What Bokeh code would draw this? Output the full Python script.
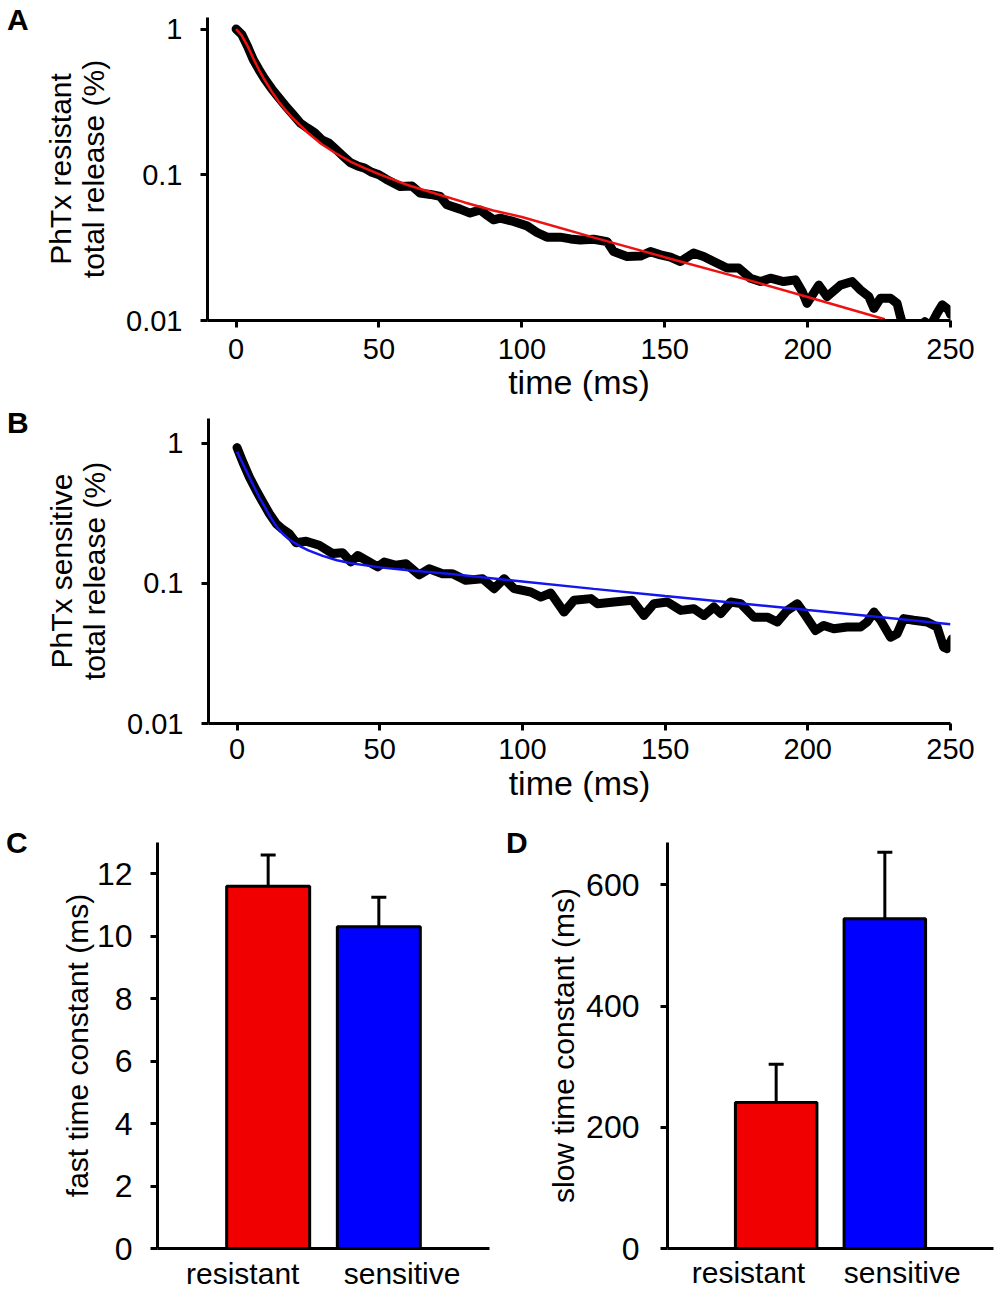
from bokeh.plotting import figure
from bokeh.layouts import column, row
from bokeh.models import Range1d, FixedTicker, Whisker, ColumnDataSource, TeeHead, Div
from bokeh.embed import file_html
from bokeh.resources import INLINE

FONT = "Liberation Sans"

# ---------------- Panel A: PhTx resistant release (black trace + red fit) ----------------
time_a = [0, 2, 4, 6, 8, 10, 12.5, 15, 17.5, 20, 22.5, 25, 27.5, 30, 32.5, 35, 37.5, 40, 42.5, 45,
          47.5, 50, 52.5, 57.4, 61.5, 64.4, 68, 71.4, 73.8, 78.4, 81.9, 85.4, 88, 90.1, 92.4, 97.1,
          101.8, 105.3, 108.8, 113.4, 117, 120.4, 125.1, 129.8, 132.1, 136.8, 141.5, 145, 148.5, 152,
          155.5, 160.1, 163.6, 167.1, 171.8, 175.9, 180, 183.5, 187, 191.6, 195.7, 198.1, 199.8, 203.9,
          206.8, 211.5, 215.6, 218.5, 221.4, 223.2, 225.5, 229, 231.3, 232.5, 234, 238, 241, 243,
          245.3, 247.1, 249.4, 250]
release_a = [1.0, 0.916, 0.762, 0.617, 0.527, 0.455, 0.388, 0.337, 0.294, 0.258, 0.226, 0.209, 0.194,
             0.174, 0.165, 0.149, 0.134, 0.121, 0.115, 0.111, 0.104, 0.100, 0.0933, 0.0832, 0.0839,
             0.0748, 0.0733, 0.0710, 0.0622, 0.0581, 0.0546, 0.0574, 0.0525, 0.0491, 0.0504, 0.0478,
             0.0446, 0.0402, 0.0373, 0.0373, 0.0363, 0.0357, 0.0361, 0.0348, 0.0297, 0.0275, 0.0277,
             0.0297, 0.0282, 0.0272, 0.0254, 0.0290, 0.0275, 0.0254, 0.0229, 0.0229, 0.0195, 0.0185,
             0.0195, 0.0185, 0.0190, 0.0158, 0.0131, 0.0175, 0.0146, 0.0175, 0.0185, 0.0162, 0.0146,
             0.0121, 0.0142, 0.0142, 0.0131, 0.0106, 0.0085, 0.0085, 0.0098, 0.0092, 0.0112, 0.0128,
             0.0118, 0.0110]
fit_time_a = [0, 2, 4, 6, 8, 10, 12.5, 15, 17.5, 20, 25, 30, 35, 40, 45, 50, 60, 70, 80, 90, 100,
              125, 150, 175, 200, 227]
fit_a = [1.0, 0.902, 0.767, 0.631, 0.525, 0.447, 0.372, 0.316, 0.275, 0.243, 0.195, 0.162, 0.140,
         0.123, 0.111, 0.101, 0.0851, 0.0741, 0.0646, 0.0569, 0.0513, 0.0372, 0.0272, 0.0200, 0.0145,
         0.0102]

# ---------------- Panel B: PhTx sensitive release (black trace + blue fit) ----------------
time_b = [0, 2, 4.3, 6.7, 9, 11.3, 13.7, 16, 18.3, 20.7, 24.2, 28.8, 33.5, 37, 39.9, 42.3, 46.3, 49.3,
          51.6, 55.7, 59.2, 63.8, 67.3, 72, 75.5, 80.2, 86, 90.1, 93.6, 97.1, 102.9, 106.4, 109.9,
          114.6, 118.1, 124, 126.3, 132.1, 138.5, 142.6, 146.1, 150.8, 155.5, 160.1, 163.6, 167.1,
          169.5, 173, 176.5, 181.1, 185.8, 189.3, 192.8, 196.3, 199.2, 202.7, 205.6, 209.1, 213.8,
          218.5, 220.8, 223.2, 225.5, 229, 231.3, 233.6, 237.1, 241.8, 245.3, 247.6, 248.8, 250.6]
release_b = [0.93, 0.735, 0.574, 0.461, 0.381, 0.315, 0.267, 0.243, 0.226, 0.195, 0.1995, 0.187, 0.163,
             0.1655, 0.142, 0.158, 0.142, 0.131, 0.142, 0.1345, 0.138, 0.115, 0.127, 0.117, 0.117,
             0.105, 0.108, 0.0916, 0.108, 0.0916, 0.0867, 0.0798, 0.0853, 0.0624, 0.0757, 0.0778,
             0.0716, 0.0736, 0.0757, 0.059, 0.0716, 0.0736, 0.0641, 0.0659, 0.059, 0.0678, 0.0608,
             0.0736, 0.0716, 0.0574, 0.0574, 0.053, 0.0641, 0.0716, 0.059, 0.0461, 0.0501, 0.0474,
             0.0488, 0.0488, 0.053, 0.0624, 0.0545, 0.0413, 0.0437, 0.056, 0.0545, 0.053, 0.0488,
             0.0351, 0.0342, 0.0403]
fit_time_b = [0, 2, 4, 6, 8, 10, 12, 14, 16, 18, 20, 22.5, 25, 30, 35, 40, 50, 60, 75, 100, 125, 150,
              175, 200, 225, 250]
fit_b = [0.87, 0.716, 0.59, 0.487, 0.403, 0.342, 0.29, 0.252, 0.226, 0.208, 0.195, 0.182, 0.172,
         0.157, 0.146, 0.139, 0.13, 0.124, 0.1165, 0.103, 0.0913, 0.0812, 0.0724, 0.0645, 0.0575,
         0.0510]

time_ticks = [0, 50, 100, 150, 200, 250]
log_ticks = [0.01, 0.1, 1]
log_tick_labels = ["0.01", "0.1", "1"]

# ---------------- Panels C, D: time constants ----------------
groups = ["resistant", "sensitive"]
bar_colors = ["#f00000", "#0000ff"]
fast_tau = [11.6, 10.3]
fast_sem = [1.0, 0.95]
slow_tau = [241, 544]
slow_sem = [63, 110]
fast_ticks = [0, 2, 4, 6, 8, 10, 12]
slow_ticks = [0, 200, 400, 600]


def style_axis(ax, tick_size, label_size, tick_standoff, label_standoff, tick_out=7):
    ax.axis_line_width = 3
    ax.axis_line_color = "black"
    ax.major_tick_line_width = 3
    ax.major_tick_line_color = "black"
    ax.major_tick_out = tick_out
    ax.major_tick_in = 0
    ax.minor_tick_line_color = None
    ax.major_label_text_font = FONT
    ax.major_label_text_font_size = f"{tick_size}px"
    ax.major_label_text_color = "black"
    ax.major_label_standoff = tick_standoff
    ax.axis_label_text_font = FONT
    ax.axis_label_text_font_size = f"{label_size}px"
    ax.axis_label_text_font_style = "normal"
    ax.axis_label_text_color = "black"
    ax.axis_label_text_line_height = 1.0
    ax.axis_label_standoff = label_standoff


LETTER_CSS = {"font-family": f"'{FONT}'", "font-size": "30px", "font-weight": "bold",
              "line-height": "30px", "color": "black"}


def letter_div(text, width, height, left, top):
    html = (f'<div style="font-family: \'{FONT}\' !important; font-size: 30px !important; '
            f'font-weight: bold; line-height: 30px; color: black; '
            f'padding-left: {left}px; padding-top: {top}px;">{text}</div>')
    return Div(text=html, width=width, height=height, margin=(0, 0, 0, 0), styles=LETTER_CSS)


def trace_fig(width, height, b_left, b_right, b_top, b_bottom, y_end, ylabel, t, r, ft, fr,
              fit_color, tick_sd, label_sd):
    p = figure(width=width, height=height, x_range=Range1d(-10, 250), y_range=Range1d(0.01, y_end),
               y_axis_type="log", output_backend="svg", toolbar_location=None,
               min_border_left=b_left, min_border_right=b_right,
               min_border_top=b_top, min_border_bottom=b_bottom)
    p.outline_line_color = None
    p.grid.visible = False
    p.line(t, r, line_width=9, color="black", line_join="round", line_cap="round")
    p.line(ft, fr, line_width=2.5, color=fit_color)
    p.xaxis.ticker = FixedTicker(ticks=time_ticks)
    p.yaxis.ticker = FixedTicker(ticks=log_ticks)
    p.yaxis.major_label_overrides = dict(zip(log_ticks, log_tick_labels))
    p.xaxis.axis_label = "time (ms)"
    p.yaxis.axis_label = ylabel
    style_axis(p.xaxis[0], 29, 34, tick_sd, label_sd)
    style_axis(p.yaxis[0], 29, 30, 18, 13)
    return p


pA = trace_fig(962, 408, 167, 52, 17, 88, 1.2, "PhTx resistant\ntotal release (%)",
               time_a, release_a, fit_time_a, fit_a, "#ee1111", 11, 1)
pB = trace_fig(962, 400, 168, 52, 10, 85, 1.5, "PhTx sensitive\ntotal release (%)",
               time_b, release_b, fit_time_b, fit_b, "#1515ee", 8, 2)


def bar_fig(width, b_left, b_right, b_top, b_bottom, y_end, vals, errs, yticks, ylabel,
            label_pos, xtick_standoff, ytick_standoff, ylabel_standoff):
    p = figure(width=width, height=488, x_range=Range1d(0, 3), y_range=Range1d(0, y_end),
               output_backend="svg", toolbar_location=None,
               min_border_left=b_left, min_border_right=b_right,
               min_border_top=b_top, min_border_bottom=b_bottom)
    p.outline_line_color = None
    p.grid.visible = False
    xs = [i + 1 for i in range(len(groups))]
    src = ColumnDataSource(dict(x=xs, top=vals, upper=[v + e for v, e in zip(vals, errs)],
                                color=bar_colors))
    p.add_layout(Whisker(base="x", lower="top", upper="upper", source=src, dimension="height",
                         line_width=3, line_color="black", lower_head=None,
                         upper_head=TeeHead(size=15, line_width=3, line_color="black")))
    p.vbar(x="x", top="top", bottom=0, width=0.75, fill_color="color", line_color="black",
           line_width=3, source=src)
    p.xaxis.ticker = FixedTicker(ticks=label_pos)
    p.xaxis.major_label_overrides = dict(zip(label_pos, groups))
    p.yaxis.ticker = FixedTicker(ticks=yticks)
    p.yaxis.axis_label = ylabel
    style_axis(p.xaxis[0], 30, 30, xtick_standoff, 0, tick_out=0)
    style_axis(p.yaxis[0], 32, 30, ytick_standoff, ylabel_standoff)
    return p


pC = bar_fig(460, 117, 11, 33, 48, 13, fast_tau, fast_sem, fast_ticks, "fast time constant (ms)",
             [0.77, 2.21], 8, 18, 0)
pD = bar_fig(462, 127, 9, 34, 42, 670, slow_tau, slow_sem, slow_ticks, "slow time constant (ms)",
             [0.745, 2.16], 7, 21, 3)

divA = letter_div("A", 40, 408, 7, 5)
divB = letter_div("B", 40, 400, 7, 0)
divC = letter_div("C", 40, 488, 6, 20)
divD = letter_div("D", 40, 488, 6, 20)

layout = column(row(divA, pA, spacing=0), row(divB, pB, spacing=0),
                row(divC, pC, divD, pD, spacing=0), spacing=0)
open("out.html", "w").write(file_html(layout, INLINE))
